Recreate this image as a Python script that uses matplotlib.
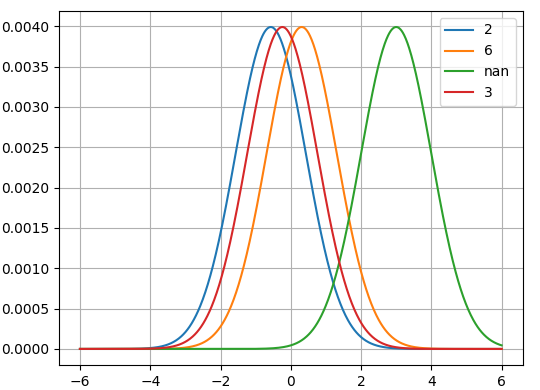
import numpy as np
import matplotlib
matplotlib.use("Agg")
import matplotlib.pyplot as plt

# подписи кривых и положения пиков
labels = ["2", "6", "nan", "3"]
centers = [-0.57, 0.31, 3.0, -0.24]
widths = [1.0, 1.0, 1.0, 1.0]
scale = 0.01  # высота пика ~0.00399

x = np.linspace(-6, 6, 1000)

fig = plt.figure(figsize=(5.4, 3.9), dpi=100)
ax = fig.add_axes([0.109, 0.064, 0.859, 0.908])

for lab, mu, s in zip(labels, centers, widths):
    y = scale * np.exp(-0.5 * ((x - mu) / s) ** 2) / (s * np.sqrt(2 * np.pi))
    ax.plot(x, y, label=lab)

ax.grid(True)
ax.legend(loc="upper right")

fig.savefig("out.png", dpi=100)
